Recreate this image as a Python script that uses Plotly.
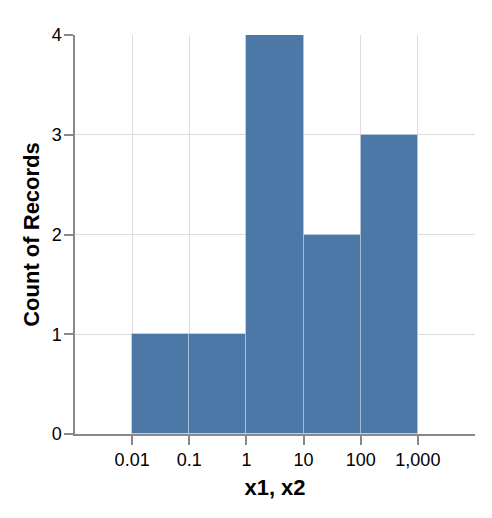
import plotly.graph_objects as go
import numpy as np

# Histogram data (log-spaced bins)
bin_left = [0.01, 0.1, 1, 10, 100]
bin_right = [0.1, 1, 10, 100, 1000]
counts = [1, 1, 4, 2, 3]

x_domain = [0.001, 10000]
x_tickvals = [0.01, 0.1, 1, 10, 100, 1000]
x_ticktext = ["0.01", "0.1", "1", "10", "100", "1,000"]
y_tickvals = [0, 1, 2, 3, 4]

# positions on a log10 scale
lo = np.log10(bin_left)
hi = np.log10(bin_right)
centers = (lo + hi) / 2
widths = hi - lo
tick_pos = np.log10(x_tickvals)
dom = np.log10(x_domain)

fig = go.Figure()
fig.add_trace(go.Bar(
    x=centers, y=counts, width=widths,
    marker=dict(color="#4c78a8", line=dict(color="rgba(255,255,255,0.3)", width=1)),
    hoverinfo="skip",
))

axis_font = dict(family="Liberation Sans, Arial, Helvetica, sans-serif", size=18, color="#000")
title_font = dict(family="Liberation Sans, Arial, Helvetica, sans-serif", size=22, color="#000")

fig.update_layout(
    width=492, height=518,
    margin=dict(l=75, r=17, t=35, b=84),
    paper_bgcolor="white", plot_bgcolor="white",
    showlegend=False,
    bargap=0,
    xaxis=dict(
        range=[dom[0], dom[1]],
        tickmode="array", tickvals=tick_pos, ticktext=x_ticktext,
        showgrid=True, gridcolor="#dddddd", gridwidth=1,
        minor=dict(tickmode="array", tickvals=[dom[1]], showgrid=True,
                   gridcolor="#dddddd", gridwidth=1, ticks=""),
        showline=True, linecolor="#888888", linewidth=1.5,
        ticks="outside", ticklen=9, tickcolor="#888888", tickwidth=1.5,
        tickfont=axis_font, zeroline=False,
        title=dict(text="<b>x1, x2</b>", font=title_font, standoff=10),
    ),
    yaxis=dict(
        range=[0, 4], tickvals=y_tickvals,
        showgrid=True, gridcolor="#dddddd", gridwidth=1,
        showline=True, linecolor="#888888", linewidth=1.5,
        ticks="outside", ticklen=9, tickcolor="#888888", tickwidth=1.5,
        tickfont=axis_font, zeroline=False, ticklabelstandoff=-1,
        title=dict(text="<b>Count of Records</b>", font=title_font, standoff=6),
    ),
)

fig.write_html("out.html")
